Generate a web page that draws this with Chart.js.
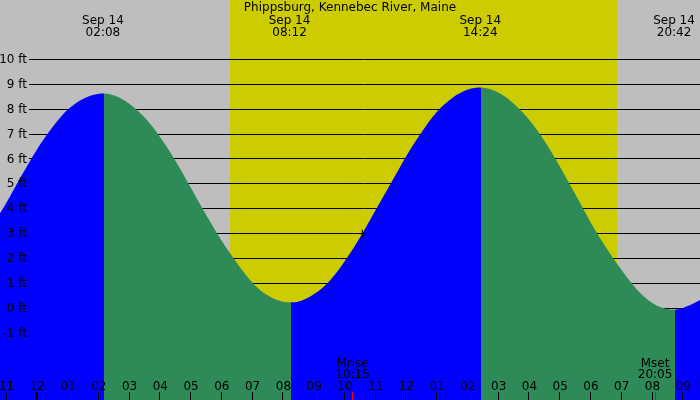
<!DOCTYPE html>
<html>
<head>
<meta charset="utf-8">
<script src="https://cdn.jsdelivr.net/npm/chart.js@4.4.1/dist/chart.umd.min.js"></script>
<style>
  html, body { margin: 0; padding: 0; background: #bebebe; }
  #wrap { width: 700px; height: 400px; }
</style>
</head>
<body>
<div id="wrap"><canvas id="tide" width="700" height="400"></canvas></div>
<script>
// tide height (ft), hours counted from Sep 14 00:00
const tideHours = [-1.5, -1, -0.5, 0, 0.5, 1, 1.5, 2, 2.1684,
    2.5, 3, 3.5, 4, 4.5, 5, 5.5, 6, 6.5, 7, 7.5, 8, 8.2476,
    8.5, 9, 9.5, 10, 10.5, 11, 11.5, 12, 12.5, 13, 13.5, 14, 14.4244,
    15, 15.5, 16, 16.5, 17, 17.5, 18, 18.5, 19, 19.5, 20, 20.3, 20.7313,
    21, 21.5, 22];
const tideFeet = [3.25, 4.25, 5.35, 6.40, 7.28, 7.99, 8.42, 8.62, 8.63,
    8.55, 8.21, 7.65, 6.86, 5.91, 4.82, 3.73, 2.70, 1.80, 1.02, 0.51, 0.26, 0.24,
    0.27, 0.57, 1.10, 1.90, 2.86, 3.95, 5.03, 6.12, 7.08, 7.90, 8.46, 8.79, 8.87,
    8.66, 8.21, 7.55, 6.70, 5.67, 4.56, 3.43, 2.42, 1.53, 0.75, 0.21, 0.03, -0.06,
    0.02, 0.30, 0.70];

// high / low tide labels along the top
const extremeHours = [2.133, 8.2, 14.4, 20.7];
const extremeDates = ['Sep 14', 'Sep 14', 'Sep 14', 'Sep 14'];
const extremeTimes = ['02:08', '08:12', '14:24', '20:42'];

// hour axis
const hourTicks = [-1, 0, 1, 2, 3, 4, 5, 6, 7, 8, 9, 10, 11, 12, 13, 14, 15, 16, 17, 18, 19, 20, 21];
const hourLabels = ['11', '12', '01', '02', '03', '04', '05', '06', '07', '08', '09', '10',
    '11', '12', '01', '02', '03', '04', '05', '06', '07', '08', '09'];

// feet axis
const feetTicks = [-1, 0, 1, 2, 3, 4, 5, 6, 7, 8, 9, 10];
const feetLabels = ['-1 ft', '0 ft', '1 ft', '2 ft', '3 ft', '4 ft', '5 ft', '6 ft', '7 ft', '8 ft', '9 ft', '10 ft'];

// daylight, moon and current time
const sunriseHour = 6.265;
const sunsetHour = 18.846;
const moonHours = [10.25, 20.083];
const moonNames = ['Mrise', 'Mset'];
const moonTimes = ['10:15', '20:05'];
const nowHour = 10.565;
const nowFeet = 3.0;

const title = 'Phippsburg, Kennebec River, Maine';

const nightColor = '#bebebe';
const dayColor = '#cccc00';
const risingColor = '#0000ff';
const fallingColor = '#2e8b57';
const font = "12px 'DejaVu Sans'";

const tidePlugin = {
    id: 'tidePlugin',
    beforeDraw(chart) {
        const { ctx, scales: { x }, chartArea } = chart;
        ctx.save();
        ctx.fillStyle = nightColor;
        ctx.fillRect(0, 0, chart.width, chart.height);
        const x0 = Math.round(x.getPixelForValue(sunriseHour));
        const x1 = Math.round(x.getPixelForValue(sunsetHour));
        ctx.fillStyle = dayColor;
        ctx.fillRect(x0, chartArea.top, x1 - x0, chartArea.bottom - chartArea.top);
        ctx.restore();
    },
    beforeDatasetsDraw(chart) {
        // feet lines sit under the tide
        const { ctx, scales: { y }, chartArea } = chart;
        ctx.save();
        ctx.strokeStyle = '#000';
        ctx.lineWidth = 1;
        feetTicks.forEach(v => {
            const py = Math.floor(y.getPixelForValue(v)) + 0.5;
            ctx.beginPath();
            ctx.moveTo(29, py);
            ctx.lineTo(chartArea.right, py);
            ctx.stroke();
        });
        ctx.restore();
    },
    afterDatasetsDraw(chart) {
        const { ctx, scales: { x, y }, chartArea } = chart;
        ctx.save();
        ctx.font = font;
        ctx.fillStyle = '#000';

        // feet labels
        ctx.textAlign = 'right';
        ctx.textBaseline = 'middle';
        feetTicks.forEach((v, i) => {
            ctx.fillText(feetLabels[i], 27, y.getPixelForValue(v) + 0.5);
        });

        // title and tide times
        ctx.textAlign = 'center';
        ctx.textBaseline = 'alphabetic';
        ctx.fillText(title, 350, 11);
        extremeHours.forEach((h, i) => {
            const px = x.getPixelForValue(h);
            ctx.fillText(extremeDates[i], px, 24);
            ctx.fillText(extremeTimes[i], px, 36);
        });

        // hour labels and ticks
        hourTicks.forEach((h, i) => {
            const px = x.getPixelForValue(h);
            const col = Math.floor(px - 0.5);
            ctx.fillText(hourLabels[i], px, 390);
            if (h === 0) {
                ctx.fillRect(col - 1, 392, 3, chartArea.bottom - 392);
            } else {
                ctx.fillRect(col, 392, 1, chartArea.bottom - 392);
            }
        });

        // moon rise / set
        moonHours.forEach((h, i) => {
            const px = x.getPixelForValue(h);
            ctx.fillStyle = '#000';
            ctx.fillText(moonNames[i], px, 366.5);
            ctx.fillText(moonTimes[i], px, 378);
            ctx.fillStyle = '#ff0000';
            ctx.fillRect(Math.floor(px), 392, 1, chartArea.bottom - 392);
        });
        ctx.restore();
    }
};

const tideChart = new Chart(document.getElementById('tide'), {
    type: 'line',
    data: {
        datasets: [
            {
                type: 'scatter',
                data: [{ x: nowHour, y: nowFeet }],
                pointStyle: 'cross',
                pointRadius: 4,
                borderColor: '#000',
                borderWidth: 1,
                order: 0
            },
            {
                data: tideHours.map((h, i) => ({ x: h, y: tideFeet[i] })),
                fill: 'start',
                borderWidth: 0,
                pointRadius: 0,
                backgroundColor: risingColor,
                cubicInterpolationMode: 'monotone',
                segment: {
                    backgroundColor: c => c.p1.parsed.y >= c.p0.parsed.y ? risingColor : fallingColor
                },
                order: 1
            }
        ]
    },
    options: {
        responsive: false,
        animation: false,
        devicePixelRatio: 1,
        layout: { padding: 0, autoPadding: false },
        plugins: {
            legend: { display: false },
            tooltip: { enabled: false }
        },
        scales: {
            x: { type: 'linear', min: -1.2126, max: 21.544, display: false },
            y: { type: 'linear', min: -3.682, max: 12.382, display: false }
        }
    },
    plugins: [tidePlugin]
});
</script>
</body>
</html>
